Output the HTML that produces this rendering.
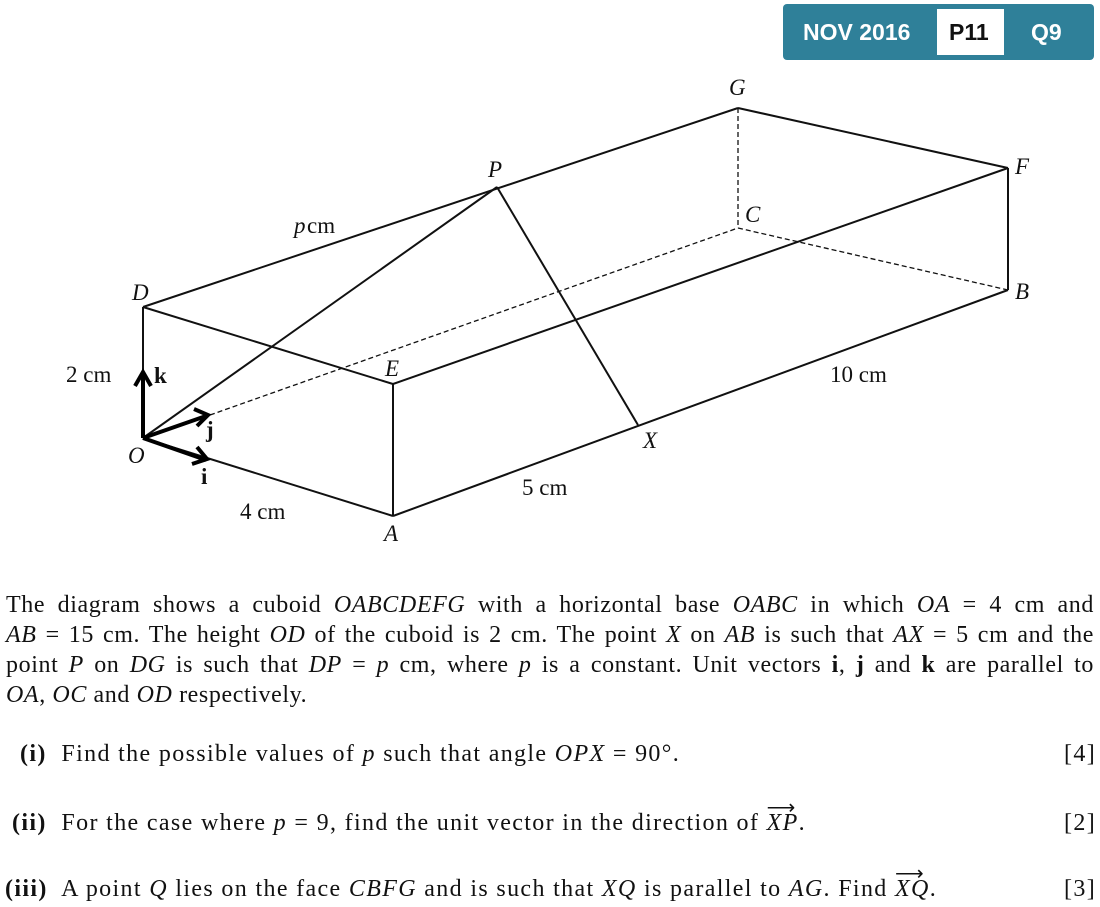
<!DOCTYPE html>
<html><head><style>
body{margin:0;width:1100px;height:907px;background:#fff;position:relative;overflow:hidden;font-family:"Liberation Serif",serif;color:#111}
.badge{position:absolute;left:783px;top:4px;width:311px;height:56px;background:#2f8099;border-radius:4px}
.badge span{position:absolute;top:0;line-height:56px;font-family:"Liberation Sans",sans-serif;font-weight:bold;font-size:23px;color:#fff}
.wb{position:absolute;left:154px;top:5px;width:67px;height:46px;background:#fff}
.l{position:absolute;font-size:24px;line-height:30px;left:6px;width:1088px;text-align:justify;text-align-last:justify;white-space:nowrap;letter-spacing:0.6px}
.q{position:absolute;font-size:24px;white-space:nowrap;letter-spacing:1.35px}
.v{position:relative}
.v span{position:absolute;left:0;top:-15px;font-size:20px}
</style></head><body>
<div class="badge"><span style="left:20px">NOV 2016</span><div class="wb"></div><span style="left:166px;color:#111">P11</span><span style="left:248px">Q9</span></div>
<svg width="1100" height="560" style="position:absolute;left:0;top:0" font-family="Liberation Serif" font-size="23">
<g stroke="#111" stroke-width="2" fill="none">
<line x1="143" y1="307" x2="143" y2="438"/>
<line x1="143" y1="438" x2="393" y2="516"/>
<line x1="393" y1="384" x2="393" y2="516"/>
<line x1="143" y1="307" x2="393" y2="384"/>
<line x1="143" y1="307" x2="738" y2="108"/>
<line x1="738" y1="108" x2="1008" y2="168"/>
<line x1="393" y1="384" x2="1008" y2="168"/>
<line x1="1008" y1="168" x2="1008" y2="290"/>
<line x1="393" y1="516" x2="1008" y2="290"/>
<line x1="143" y1="438" x2="497" y2="187"/>
<line x1="497" y1="187" x2="638" y2="425"/>
</g>
<g stroke="#111" stroke-width="1.3" fill="none" stroke-dasharray="5,3">
<line x1="210" y1="415" x2="738" y2="228"/>
<line x1="738" y1="228" x2="1008" y2="290"/>
<line x1="738" y1="108" x2="738" y2="228"/>
</g>
<g stroke="#000" stroke-width="4" fill="none">
<line x1="143" y1="438" x2="143" y2="372"/><polyline points="135,386 143,372 151,386"/>
<line x1="143" y1="438" x2="206" y2="416"/><polyline points="194,409 208,415 197,426"/>
<line x1="143" y1="438" x2="206" y2="460"/><polyline points="197,447 207,459 192,464"/>
</g>
<g fill="#111" font-style="italic">
<text x="132" y="300">D</text><text x="128" y="463">O</text><text x="384" y="541">A</text><text x="385" y="376">E</text>
<text x="488" y="177">P</text><text x="729" y="95">G</text><text x="1015" y="174">F</text><text x="1015" y="299">B</text>
<text x="745" y="222">C</text><text x="643" y="448">X</text>
<text x="294" y="233">p</text>
</g>
<g fill="#111">
<text x="307" y="233">cm</text>
<text x="66" y="382">2 cm</text><text x="240" y="519">4 cm</text><text x="522" y="495">5 cm</text><text x="830" y="382">10 cm</text>
<text x="154" y="383" font-weight="bold">k</text><text x="206" y="437" font-weight="bold">j</text><text x="201" y="484" font-weight="bold">i</text>
</g>
</svg>
<div class="l" style="top:590px">The diagram shows a cuboid <i>OABCDEFG</i> with a horizontal base <i>OABC</i> in which <i>OA</i> = 4 cm and</div>
<div class="l" style="top:620px"><i>AB</i> = 15 cm. The height <i>OD</i> of the cuboid is 2 cm. The point <i>X</i> on <i>AB</i> is such that <i>AX</i> = 5 cm and the</div>
<div class="l" style="top:650px">point <i>P</i> on <i>DG</i> is such that <i>DP</i> = <i>p</i> cm, where <i>p</i> is a constant. Unit vectors <b>i</b>, <b>j</b> and <b>k</b> are parallel to</div>
<div class="l" style="top:680px;text-align-last:left"><i>OA</i>, <i>OC</i> and <i>OD</i> respectively.</div>
<div class="q" style="left:20px;top:741px"><b>(i)</b>&nbsp; Find the possible values of <i>p</i> such that angle <i>OPX</i> = 90°.</div>
<div class="q" style="left:1064px;top:741px">[4]</div>
<div class="q" style="left:12px;top:810px"><b>(ii)</b>&nbsp; For the case where <i>p</i> = 9, find the unit vector in the direction of <span class="v"><i>XP</i><span>&#x27F6;</span></span>.</div>
<div class="q" style="left:1064px;top:810px">[2]</div>
<div class="q" style="left:5px;top:876px"><b>(iii)</b>&nbsp; A point <i>Q</i> lies on the face <i>CBFG</i> and is such that <i>XQ</i> is parallel to <i>AG</i>. Find <span class="v"><i>XQ</i><span>&#x27F6;</span></span>.</div>
<div class="q" style="left:1064px;top:876px">[3]</div>
</body></html>
